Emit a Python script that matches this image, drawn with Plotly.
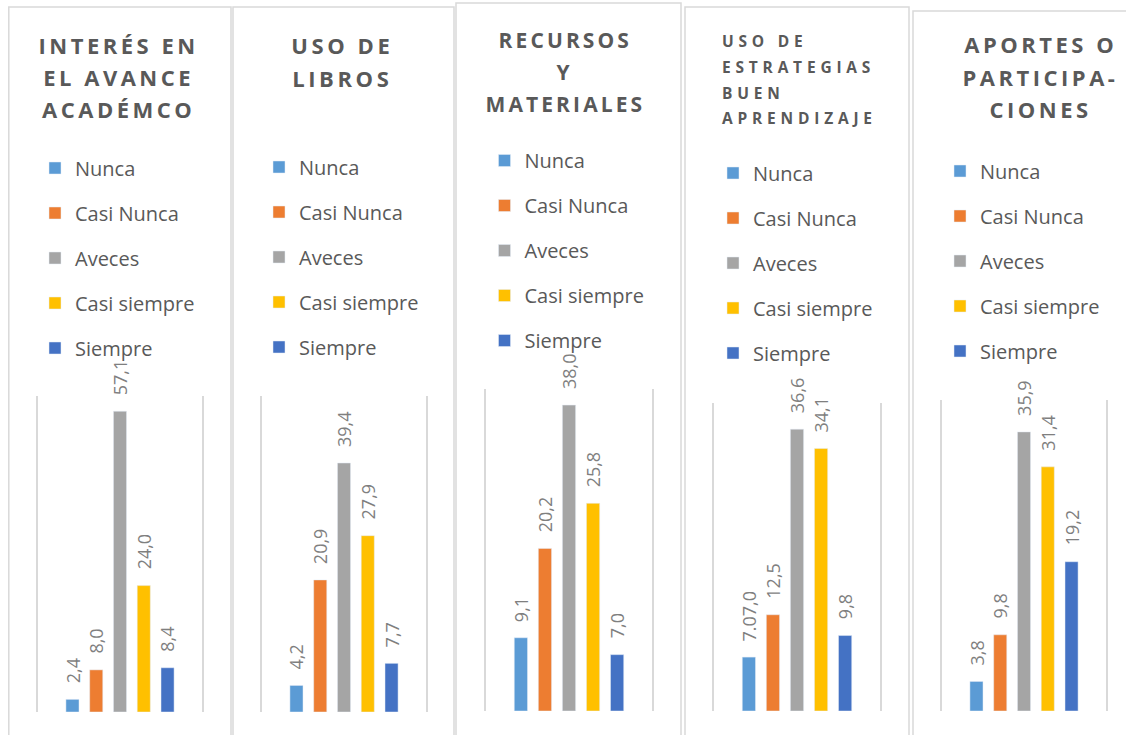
import json
import plotly.graph_objects as go

# datos
categorias = ["Nunca", "Casi Nunca", "Aveces", "Casi siempre", "Siempre"]
colores = ["#5B9BD5", "#ED7D31", "#A5A5A5", "#FFC000", "#4472C4"]

titulos = [
    ["INTERÉS EN", "EL AVANCE", "ACADÉMCO"],
    ["USO DE", "LIBROS"],
    ["RECURSOS", "Y", "MATERIALES"],
    ["USO DE", "ESTRATEGIAS", "BUEN", "APRENDIZAJE"],
    ["APORTES O", "PARTICIPA-", "CIONES"],
]

interes = [2.4, 8.0, 57.1, 24.0, 8.4]
libros = [4.2, 20.9, 39.4, 27.9, 7.7]
recursos = [9.1, 20.2, 38.0, 25.8, 7.0]
estrategias = [7.0, 12.5, 36.6, 34.1, 9.8]
aportes = [3.8, 9.8, 35.9, 31.4, 19.2]

etiq_interes = ["2,4", "8,0", "57,1", "24,0", "8,4"]
etiq_libros = ["4,2", "20,9", "39,4", "27,9", "7,7"]
etiq_recursos = ["9,1", "20,2", "38,0", "25,8", "7,0"]
etiq_estrategias = ["7.07,0", "12,5", "36,6", "34,1", "9,8"]
etiq_aportes = ["3,8", "9,8", "35,9", "31,4", "19,2"]

eje_max = [60, 50, 40, 40, 40]

valores = [interes, libros, recursos, estrategias, aportes]
etiquetas = [etiq_interes, etiq_libros, etiq_recursos, etiq_estrategias, etiq_aportes]

# geometria de cada panel (pixeles)
W, H = 1126, 735


def px(x):
    return x / W


def py(y):
    return 1 - y / H


areas = [(38, 202, 396, 712), (262, 426, 396, 712), (486, 652, 389, 711),
         (714, 880, 403, 711), (942, 1106, 400, 711)]
bordes = [(8.8, 231, 7), (233, 454, 7), (456, 681, 3), (685, 909, 7), (913, 1135, 11)]
leyendas = [(35, 148.5), (259, 147.5), (484.5, 141), (713, 153.5), (940, 151.5)]
tit_x = [118.5, 342, 565, 720, 1040]
tit_y = [[45, 77, 109], [45, 78], [40, 72, 104], [41, 67, 93, 118], [44, 77, 109]]
tit_size = [22, 22, 21, 15.5, 22]
tit_spc = [3.5, 3.6, 3.1, 4.8, 3.5]

fig = go.Figure()
layout = dict(width=W, height=H, margin=dict(l=0, r=0, t=0, b=0),
              paper_bgcolor="white", plot_bgcolor="white", barmode="overlay",
              font=dict(family="Open Sans", color="#595959"))
shapes, anots, espacios = [], [], []

# titulos primero (indices 0..n para el espaciado de letras)
for p in range(5):
    for k, linea in enumerate(titulos[p]):
        anots.append(dict(
            xref="paper", yref="paper", x=px(tit_x[p]), y=py(tit_y[p][k]),
            text=linea, showarrow=False, yanchor="middle",
            xanchor="left" if p == 3 else "center", align="left" if p == 3 else "center",
            font=dict(family="Open Sans", size=tit_size[p], color="#595959", weight=700)))
        espacios.append(tit_spc[p])

for p in range(5):
    s = "" if p == 0 else str(p + 1)
    x0, x1, y0, y1 = areas[p]
    layout["xaxis" + s] = dict(domain=[px(x0), px(x1)], range=[-1.45, 5.45],
                               anchor="y" + s, visible=False, fixedrange=True)
    layout["yaxis" + s] = dict(domain=[py(y1), py(y0)], range=[0, eje_max[p]],
                               anchor="x" + s, showline=True, mirror=True,
                               linecolor="#d9d9d9", linewidth=1.5, showgrid=False,
                               zeroline=False, showticklabels=False, ticks="",
                               fixedrange=True)
    leg = "legend" if p == 0 else "legend" + str(p + 1)
    layout[leg] = dict(x=px(leyendas[p][0]), y=py(leyendas[p][1]),
                       xanchor="left", yanchor="top", bgcolor="rgba(0,0,0,0)",
                       traceorder="grouped", tracegroupgap=16,
                       font=dict(family="Open Sans", size=20, color="#595959"))
    bx0, bx1, bt = bordes[p]
    shapes.append(dict(type="rect", xref="paper", yref="paper", x0=px(bx0), x1=px(bx1),
                       y0=-0.1, y1=py(bt), line=dict(color="#d9d9d9", width=1.5),
                       layer="below"))

    for i, cat in enumerate(categorias):
        fig.add_trace(go.Bar(
            x=[i], y=[valores[p][i]], width=0.55, name=cat,
            marker=dict(color=colores[i]), xaxis="x" + s, yaxis="y" + s,
            legend=leg, legendgroup=f"{p}-{i}", showlegend=True,
            hovertemplate=cat + ": %{y}<extra></extra>"))
        anots.append(dict(
            xref="x" + s, yref="y" + s, x=i, y=valores[p][i], text=etiquetas[p][i],
            showarrow=False, textangle=-90, xanchor="center", yanchor="bottom",
            yshift=14, font=dict(family="Open Sans", size=18, color="#7f7f7f")))

layout["shapes"] = shapes
layout["annotations"] = anots
fig.update_layout(**layout)

# sin margen de pagina y espaciado de letras de los titulos (como en Excel)
post = ("document.body.style.margin='0';"
        "var sp=%s;document.querySelectorAll('g.annotation').forEach(function(g){"
        "var i=+g.getAttribute('data-index');if(i<sp.length){"
        "g.querySelectorAll('text').forEach(function(t){t.style.letterSpacing=sp[i]+'px';});}});"
        % json.dumps(espacios))

fig.write_html("out.html", post_script=post, config={"displayModeBar": False})
